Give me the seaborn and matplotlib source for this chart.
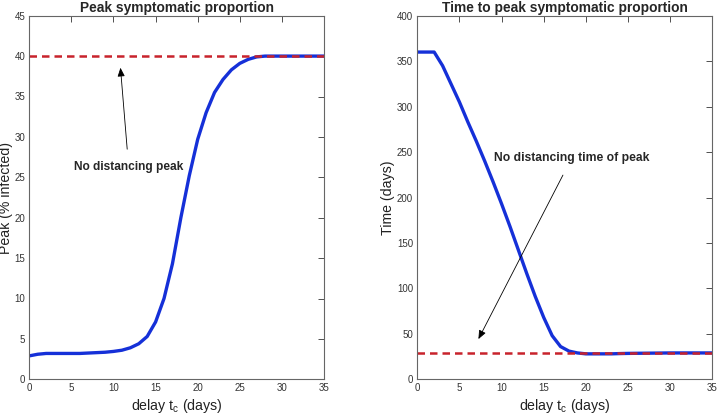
import numpy as np
import pandas as pd
import matplotlib
matplotlib.use("Agg")
import matplotlib.pyplot as plt
import seaborn as sns

# delay values (days)
delay = list(range(0, 36))

# peak symptomatic proportion (% infected)
peak_pct = [2.9, 3.1, 3.2, 3.2, 3.2, 3.2, 3.2, 3.25, 3.3, 3.35, 3.45, 3.6, 3.9, 4.4, 5.3, 7.1,
            10.0, 14.3, 20.0, 25.2, 29.7, 33.0, 35.5, 37.1, 38.3, 39.1, 39.6, 39.9, 40.0, 40.0,
            40.0, 40.0, 40.0, 40.0, 40.0, 40.0]
no_distancing_peak = 40.0

# time to peak (days)
time_to_peak = [360, 360, 360, 345, 325, 305, 283, 262, 240, 217, 193, 168, 142, 116, 91, 68,
                48, 36, 31, 29, 28, 28, 28, 28, 28.3, 28.5, 28.6, 28.7, 28.8, 28.9,
                29, 29, 29, 29, 29, 29]
no_distancing_time = 29.0

df = pd.DataFrame({"delay": delay, "peak": peak_pct, "time": time_to_peak})

sns.set_style("white")
plt.rcParams["font.family"] = ["Liberation Sans", "DejaVu Sans"]
plt.rcParams["mathtext.fontset"] = "custom"
plt.rcParams["mathtext.rm"] = "Liberation Sans"

blue = "#1530d8"
red = "#c8232c"

fig = plt.figure(figsize=(7.17, 4.16), dpi=100)
ax1 = fig.add_axes([29.3 / 717, 1 - 379.3 / 416, 294.7 / 717, 363.6 / 416])
ax2 = fig.add_axes([417.3 / 717, 1 - 379.3 / 416, 295 / 717, 363.6 / 416])


def style_axes(ax, ylim, yticks):
    ax.set_xlim(0, 35)
    ax.set_ylim(*ylim)
    ax.set_xticks(range(0, 36, 5))
    ax.set_yticks(yticks)
    ax.tick_params(direction="in", length=4, width=0.6, labelsize=7, colors="#333333",
                   top=True, right=True, pad=3)
    for s in ax.spines.values():
        s.set_color("#666666")
        s.set_linewidth(0.8)
        s.set_visible(True)
    ax.set_xlabel(r"delay $\mathregular{t_c}$ (days)", fontsize=10.2, color="#222222", labelpad=2.5)


# left panel
sns.lineplot(data=df, x="delay", y="peak", ax=ax1, color=blue, linewidth=2.4)
ax1.axhline(no_distancing_peak, color=red, linestyle=(0, (3, 2)), linewidth=1.8)
style_axes(ax1, (0, 45), range(0, 46, 5))
ax1.set_ylabel("Peak (% infected)", fontsize=10.2, color="#222222", labelpad=1)
ax1.set_title("Peak symptomatic proportion", fontsize=9.9, fontweight="bold", pad=3)
ax1.annotate("No distancing peak", xy=(10.8, 38.9), xytext=(11.8, 26.3),
             ha="center", va="center", fontsize=8.6, fontweight="bold",
             arrowprops=dict(arrowstyle="-|>,head_length=0.6,head_width=0.25",
                             color="black", linewidth=0.6, shrinkA=6))

# right panel
sns.lineplot(data=df, x="delay", y="time", ax=ax2, color=blue, linewidth=2.4)
ax2.axhline(no_distancing_time, color=red, linestyle=(0, (3, 2)), linewidth=1.8)
style_axes(ax2, (0, 400), range(0, 401, 50))
ax2.set_ylabel("Time (days)", fontsize=10.2, color="#222222", labelpad=1.5)
ax2.set_title("Time to peak symptomatic proportion", fontsize=9.9, fontweight="bold", pad=3)
ax2.annotate("No distancing time of peak", xy=(7.1, 41.5), xytext=(18.3, 243),
             ha="center", va="center", fontsize=8.7, fontweight="bold",
             arrowprops=dict(arrowstyle="-|>,head_length=0.6,head_width=0.25",
                             color="black", linewidth=0.6, shrinkA=6))

fig.savefig("out.png", dpi=100)
